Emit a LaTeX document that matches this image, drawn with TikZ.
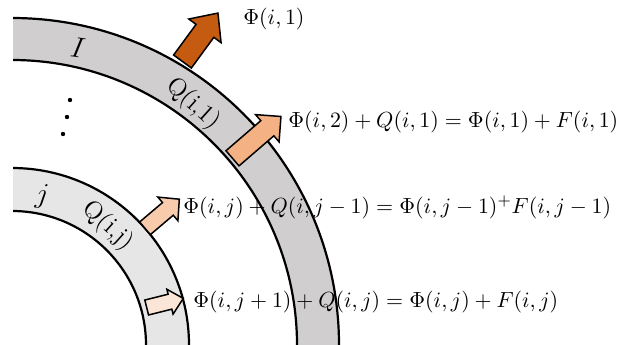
\documentclass[tikz,border=0pt]{standalone}
\usepackage{amsmath}
\definecolor{bandout}{HTML}{D0CECE}
\definecolor{bandin}{HTML}{E7E6E6}
\definecolor{fluxdark}{HTML}{C55A11}
\definecolor{fluxmid}{HTML}{F4B183}
\definecolor{fluxlight}{HTML}{F8CBAD}
\definecolor{fluxpale}{HTML}{FBE5D6}
% block arrow: base, angle, length, shaft length, shaft half width, head half width, colour
\newcommand{\blockarrow}[7]{%
  \begin{scope}[shift={#1},rotate=#2]
    \draw[line width=0.75pt,line join=miter,fill=#7] (0,-#5) -- (#4,-#5) -- (#4,-#6) -- (#3,0)
      -- (#4,#6) -- (#4,#5) -- (0,#5) -- cycle;
  \end{scope}}

\begin{document}
\begin{tikzpicture}[x=0.5pt, y=0.5pt,
    rim/.style={line width=1.1pt},
    eq/.style={anchor=west, inner sep=0pt, font=\fontsize{11.4}{14}\selectfont},
    tag/.style={inner sep=0pt, font=\fontsize{12.5}{14}\selectfont, rotate=-42}]
    \useasboundingbox (0,0) rectangle (642,344);
    % the two layers
    \begin{scope}
        \clip (13,0) rectangle (642,344);
        \fill[bandout] (12,-1) ++(0:285) arc[start angle=0, end angle=90, radius=285]
            -- ++(0,42) arc[start angle=90, end angle=0, radius=327] -- cycle;
        \fill[bandin] (12,-1) ++(0:134) arc[start angle=0, end angle=90, radius=134]
            -- ++(0,43) arc[start angle=90, end angle=0, radius=177] -- cycle;
        \draw[rim] (12,-1) ++(0:285) arc[start angle=0, end angle=90, radius=285];
        \draw[rim] (12,-1) ++(0:327) arc[start angle=0, end angle=90, radius=327];
        \draw[rim] (12,-1) ++(0:134) arc[start angle=0, end angle=90, radius=134];
        \draw[rim] (12,-1) ++(0:177) arc[start angle=0, end angle=90, radius=177];
    \end{scope}
    \foreach \px/\py in {70/244, 67/227, 63/210}
        \fill (\px,\py) circle[radius=2.2];
    % fluxes
    \blockarrow{(182.5,282.5)}{53.8}{60}{38}{11}{20}{fluxdark}
    \blockarrow{(232.5,185.7)}{40.8}{64}{46}{10}{18}{fluxmid}
    \blockarrow{(145,115.7)}{40.3}{45}{30}{8.3}{15.5}{fluxlight}
    \blockarrow{(146.7,36.5)}{14}{37.7}{24}{7.7}{12.8}{fluxpale}
    \node[font=\fontsize{15}{16}\selectfont, rotate=-8] (layone) at (78,296) {$I$};
    \node[font=\fontsize{15}{16}\selectfont, rotate=-5] (layj) at (42,148) {$j$};
    \node[tag] (qone) at (193,240) {Q(i,1)};
    \node[tag] (qj) at (108,118) {Q(i,j)};
    \node[eq] (phione) at (243,325) {$\Phi(i,1)$};
    \node[eq] (balone) at (288,222) {$\Phi(i,2)+Q(i,1)=\Phi(i,1)+F(i,1)$};
    \node[eq] (balj) at (183,137) {$\Phi(i,j)+Q(i,j-1)=\Phi(i,j-1)^{+}F(i,j-1)$};
    \node[eq] (baljone) at (193,42) {$\Phi(i,j+1)+Q(i,j)=\Phi(i,j)+F(i,j)$};
\end{tikzpicture}
\end{document}
